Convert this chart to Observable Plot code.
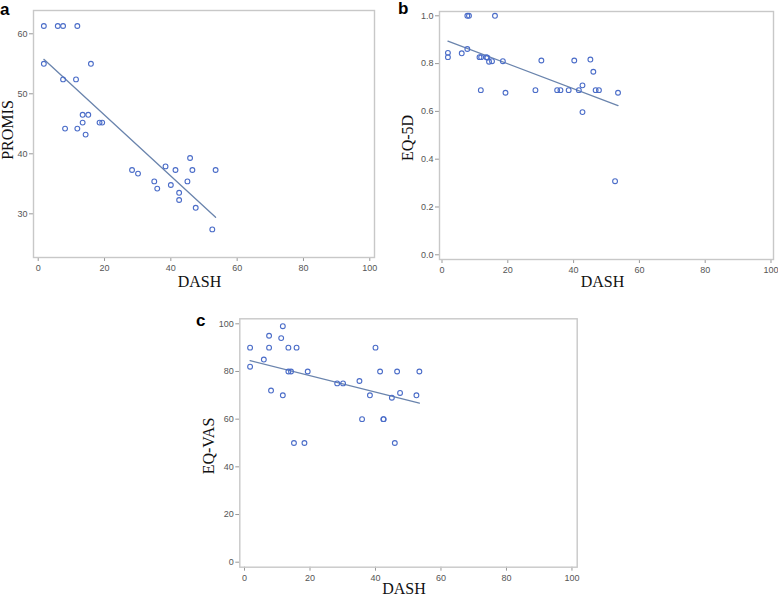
<!DOCTYPE html>
<html>
<head>
<meta charset="utf-8">
<script src="https://cdn.jsdelivr.net/npm/d3@7"></script>
<script src="https://cdn.jsdelivr.net/npm/@observablehq/plot@0.6"></script>
<style>
  html, body { margin: 0; padding: 0; background: #fff; }
  #wrap { position: relative; width: 778px; height: 598px; overflow: hidden; }
  .panel { position: absolute; }
  .lbl { position: absolute; font-family: "Liberation Serif", "Times New Roman", serif; font-size: 16px; color: #111; white-space: nowrap; line-height: 1; }
  .ylbl { transform: translate(-50%, -50%) rotate(-90deg); }
  .xlbl { transform: translate(-50%, -100%); }
  .letter { position: absolute; font-family: "Liberation Sans", Arial, sans-serif; font-weight: bold; font-size: 17px; color: #000; line-height: 1; }
</style>
</head>
<body>
<div id="wrap"></div>
<script>
// Panel a: PROMIS vs DASH
const dashA  = [1.7, 5.9, 7.5, 11.8, 1.7, 15.9, 7.5, 11.4, 13.4, 15.1, 13.4, 18.5, 19.3, 8.1, 11.8, 14.3,
                28.3, 30.1, 38.4, 41.4, 45.8, 46.5, 53.5, 35.0, 45.0, 35.9, 40.0, 42.5, 42.5, 47.5, 52.5];
const promis = [61.3, 61.3, 61.3, 61.3, 55.0, 55.0, 52.4, 52.4, 46.5, 46.5, 45.2, 45.2, 45.2, 44.2, 44.2, 43.2,
                37.3, 36.7, 37.9, 37.3, 39.3, 37.3, 37.3, 35.4, 35.4, 34.2, 34.8, 33.5, 32.3, 31.0, 27.4];

// Panel b: EQ-5D vs DASH
const dashB = [7.7, 8.2, 16.1, 1.8, 1.8, 6.0, 7.7, 11.4, 11.9, 13.5, 13.8, 14.3, 15.2, 18.5, 11.8, 19.3,
               28.4, 30.2, 35.0, 36.0, 38.5, 40.2, 41.6, 42.7, 42.7, 45.1, 46.0, 46.7, 47.7, 53.5, 52.6];
const eq5d  = [1.0, 1.0, 1.0, 0.845, 0.827, 0.843, 0.861, 0.827, 0.827, 0.827, 0.825, 0.808, 0.810, 0.810, 0.689, 0.678,
               0.689, 0.813, 0.689, 0.689, 0.689, 0.813, 0.689, 0.709, 0.597, 0.817, 0.766, 0.689, 0.689, 0.678, 0.308];

// Panel c: EQ-VAS vs DASH
const dashC = [1.7, 1.7, 5.9, 7.5, 7.5, 8.1, 11.7, 11.2, 11.7, 13.4, 15.9, 13.4, 14.2, 19.3, 15.1, 18.3,
               28.3, 30.1, 35.1, 35.9, 38.3, 40.0, 41.4, 42.4, 42.5, 45.0, 45.9, 46.6, 47.5, 52.5, 53.4];
const eqvas = [90, 82, 85, 95, 90, 72, 99, 94, 70, 90, 90, 80, 80, 80, 50, 50,
               75, 75, 76, 60, 70, 90, 80, 60, 60, 69, 50, 80, 71, 70, 80];

const xTicks = [0, 20, 40, 60, 80, 100];
const yTicksA = [30, 40, 50, 60];
const yTicksB = [0, 0.2, 0.4, 0.6, 0.8, 1.0];
const yTicksC = [0, 20, 40, 60, 80, 100];

const dotColor = "#4a6cc8";
const lineColor = "#6a84ad";
const frameColor = "#c8c8c8";

function panel(cfg) {
  const data = cfg.xs.map((x, i) => ({x, y: cfg.ys[i]}));
  const p = Plot.plot({
    width: cfg.width, height: cfg.height,
    marginLeft: cfg.ml, marginRight: cfg.mr, marginTop: cfg.mt, marginBottom: cfg.mb,
    style: {fontFamily: "'Liberation Sans', Arial, sans-serif", fontSize: "9px", color: "#555", background: "transparent", overflow: "visible"},
    x: {domain: cfg.xd},
    y: {domain: cfg.yd},
    marks: [
      Plot.axisX({ticks: xTicks, tickSize: 4, tickPadding: 3, stroke: "#999", fill: "#555", label: null}),
      Plot.axisY({ticks: cfg.yTicks, tickSize: 4, tickPadding: 2, stroke: "#999", fill: "#555", label: null, tickFormat: cfg.fmt}),
      Plot.frame({stroke: frameColor, strokeWidth: 1.4}),
      Plot.linearRegressionY(data, {x: "x", y: "y", ci: 0, stroke: lineColor, strokeWidth: 1.3}),
      Plot.dot(data, {x: "x", y: "y", r: 2.4, stroke: dotColor, strokeWidth: 1.1, fill: "none"})
    ]
  });
  const div = document.createElement("div");
  div.className = "panel";
  div.style.left = cfg.left + "px";
  div.style.top = cfg.top + "px";
  div.appendChild(p);
  document.getElementById("wrap").appendChild(div);
}

function label(text, x, y, cls) {
  const d = document.createElement("div");
  d.className = cls;
  d.style.left = x + "px";
  d.style.top = y + "px";
  d.textContent = text;
  document.getElementById("wrap").appendChild(d);
}

panel({left: 0, top: 0, width: 390, height: 300, ml: 33, mr: 16, mt: 10, mb: 43,
       xd: [-1.42, 101.42], yd: [22.72, 63.88], xs: dashA, ys: promis, yTicks: yTicksA, fmt: d3.format("d")});
panel({left: 390, top: 0, width: 388, height: 300, ml: 49, mr: 5, mt: 11, mb: 41,
       xd: [-0.76, 100.76], yd: [-0.0197, 1.018], xs: dashB, ys: eq5d, yTicks: yTicksB, fmt: d3.format(".1f")});
panel({left: 190, top: 300, width: 400, height: 298, ml: 49.3, mr: 13.3, mt: 18.3, mb: 31.3,
       xd: [-1.44, 101.6], yd: [-2.1, 102.1], xs: dashC, ys: eqvas, yTicks: yTicksC, fmt: d3.format("d")});

label("PROMIS", 8, 130, "lbl ylbl");
label("DASH", 199.5, 290, "lbl xlbl");
label("EQ-5D", 407.5, 137.5, "lbl ylbl");
label("DASH", 602.5, 290, "lbl xlbl");
label("EQ-VAS", 209, 446, "lbl ylbl");
label("DASH", 404, 597, "lbl xlbl");

label("a", 0, 1, "letter");
label("b", 398, 0, "letter");
label("c", 196, 312, "letter");
</script>
</body>
</html>
